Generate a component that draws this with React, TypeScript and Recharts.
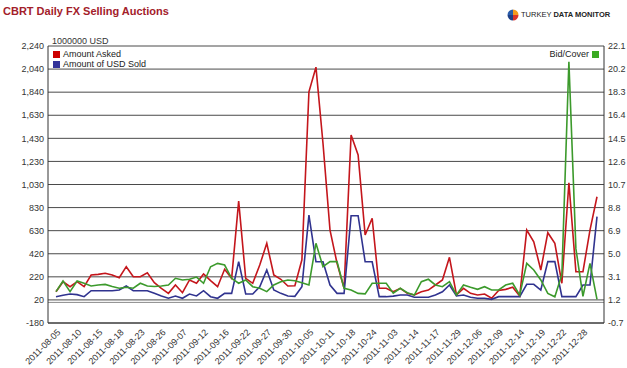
import React from 'react';
import { LineChart, Line, XAxis, YAxis, CartesianGrid, ReferenceLine } from 'recharts';

const dates = [
  '2011-08-05', '2011-08-08', '2011-08-09', '2011-08-10', '2011-08-11', '2011-08-12', '2011-08-15', '2011-08-16',
  '2011-08-17', '2011-08-18', '2011-08-19', '2011-08-22', '2011-08-23', '2011-08-24', '2011-08-25', '2011-08-26',
  '2011-09-05', '2011-09-06', '2011-09-07', '2011-09-08', '2011-09-09', '2011-09-12', '2011-09-13', '2011-09-15',
  '2011-09-16', '2011-09-19', '2011-09-20', '2011-09-22', '2011-09-23', '2011-09-26', '2011-09-27', '2011-09-28',
  '2011-09-29', '2011-09-30', '2011-10-03', '2011-10-04', '2011-10-05', '2011-10-06', '2011-10-07', '2011-10-11',
  '2011-10-13', '2011-10-17', '2011-10-18', '2011-10-19', '2011-10-21', '2011-10-24', '2011-10-26', '2011-10-31',
  '2011-11-03', '2011-11-04', '2011-11-11', '2011-11-14', '2011-11-15', '2011-11-16', '2011-11-17', '2011-11-21',
  '2011-11-23', '2011-11-29', '2011-11-30', '2011-12-02', '2011-12-06', '2011-12-07', '2011-12-08', '2011-12-09',
  '2011-12-12', '2011-12-13', '2011-12-14', '2011-12-15', '2011-12-16', '2011-12-19', '2011-12-20', '2011-12-21',
  '2011-12-22', '2011-12-23', '2011-12-27', '2011-12-28', '2011-12-29', '2011-12-30',
];

const amountAsked = [
  93, 181, 137, 181, 137, 239, 245, 254, 239, 216, 312, 224, 224, 259, 172, 123,
  79, 152, 85, 196, 167, 248, 190, 137, 289, 210, 885, 210, 167, 327, 516, 239,
  202, 143, 145, 372, 1840, 2055, 1390, 632, 342, 123, 1462, 1288, 589, 735, 123, 123,
  93, 123, 79, 65, 93, 108, 152, 196, 394, 65, 123, 79, 65, 73, 36, 105,
  114, 132, 56, 632, 530, 283, 609, 516, 167, 1045, 268, 268, 632, 923,
];

const amountSold = [
  50, 62, 73, 68, 50, 102, 102, 102, 102, 108, 143, 102, 102, 102, 79, 56,
  36, 56, 36, 73, 56, 102, 50, 36, 79, 79, 356, 73, 73, 137, 283, 108,
  79, 56, 53, 137, 763, 355, 355, 152, 79, 79, 757, 757, 355, 355, 50, 50,
  55, 65, 65, 45, 45, 45, 65, 93, 152, 56, 65, 45, 36, 36, 27, 50,
  50, 50, 50, 158, 158, 108, 356, 356, 50, 50, 50, 152, 152, 749,
];

const bidCover = [
  1.88, 2.76, 1.88, 2.76, 2.57, 2.35, 2.43, 2.48, 2.3, 2.16, 2.24, 2.16, 2.57, 2.35, 2.3, 2.35,
  2.43, 2.98, 2.84, 2.9, 3.08, 2.57, 3.93, 4.21, 4.07, 2.98, 2.57, 2.84, 2.29, 2.16, 1.88, 2.43,
  2.7, 2.84, 2.78, 2.62, 2.43, 5.86, 3.93, 4.35, 4.35, 2.16, 2.02, 1.74, 1.7, 2.57, 2.57, 2.57,
  1.75, 2.16, 1.79, 1.6, 2.7, 2.9, 2.43, 2.29, 2.7, 1.6, 2.43, 2.24, 2.07, 2.29, 2.02, 2.02,
  2.43, 2.57, 1.6, 4.21, 3.66, 2.84, 1.74, 1.46, 3.3, 20.8, 5.4, 1.5, 4.21, 1.25,
];

const leftTicks = [-180, 21.67, 223.33, 425, 626.67, 828.33, 1030, 1231.67, 1433.33, 1635, 1836.67, 2038.33, 2240];
const leftTickLabels = ['-180', '20', '220', '420', '630', '830', '1,030', '1,230', '1,430', '1,630', '1,840', '2,040', '2,240'];
const rightTicks = [-0.7, 1.2, 3.1, 5.0, 6.9, 8.8, 10.7, 12.6, 14.5, 16.4, 18.3, 20.2, 22.1];
const rightTickLabels = ['-0.7', '1.2', '3.1', '5.0', '6.9', '8.8', '10.7', '12.6', '14.5', '16.4', '18.3', '20.2', '22.1'];

const seriesNames = ['Amount Asked', 'Amount of USD Sold', 'Bid/Cover'];

const data = dates.map((d, i) => ({
  date: d,
  asked: amountAsked[i],
  sold: amountSold[i],
  bc: bidCover[i],
}));

const FONT = '"Liberation Sans", Arial, Helvetica, sans-serif';
const RED = '#c4161c';
const BLUE = '#30338f';
const GREEN = '#3c9a2c';

const XTick = (props: any) => {
  const { x, y, payload } = props;
  return (
    <g transform={`translate(${x + 5},${y + 8})`}>
      <text textAnchor="end" transform="rotate(-45)" fontSize={9} fill="#333" fontFamily={FONT}>
        {payload.value}
      </text>
    </g>
  );
};

const Logo = () => (
  <svg width={12} height={12} viewBox="-6 -6 12 12" style={{ position: 'absolute', left: 507, top: 9 }}>
    <path d="M0 0 L0 -5.5 A5.5 5.5 0 0 0 -5.5 0 Z" fill="#2a5caa" />
    <path d="M0 0 L-5.5 0 A5.5 5.5 0 0 0 0 5.5 Z" fill="#1d3f86" />
    <path d="M0 0 L0 -5.5 A5.5 5.5 0 0 1 5.5 0 Z" fill="#f39a1e" />
    <path d="M0 0 L5.5 0 A5.5 5.5 0 0 1 0 5.5 Z" fill="#d9332b" />
  </svg>
);

export default function App() {
  return (
    <div style={{ position: 'absolute', left: 0, top: 0, width: 627, height: 368, background: '#fff', fontFamily: FONT }}>
      <div style={{ position: 'absolute', left: 3, top: 5, fontSize: 11, fontWeight: 'bold', color: '#a3202a', lineHeight: '13px', whiteSpace: 'nowrap' }}>
        CBRT Daily FX Selling Auctions
      </div>
      <Logo />
      <div style={{ position: 'absolute', left: 521, top: 10, fontSize: 7.5, color: '#222', lineHeight: '10px', whiteSpace: 'nowrap' }}>
        TURKEY <b>DATA MONITOR</b>
      </div>
      <div style={{ position: 'absolute', left: 52, top: 36, fontSize: 9, color: '#333', lineHeight: '10px', whiteSpace: 'nowrap' }}>
        1000000 USD
      </div>
      <LineChart width={627} height={368} data={data} margin={{ top: 46, right: 0, bottom: 0, left: 0 }}>
        <CartesianGrid yAxisId="left" vertical={false} horizontal={true} stroke="#4a4a4a" strokeWidth={1} />
        <XAxis
          dataKey="date"
          scale="point"
          padding={{ left: 8, right: 7 }}
          interval={2}
          height={45}
          tick={<XTick />}
          tickLine={false}
          tickSize={0}
          axisLine={{ stroke: '#333' }}
        />
        <YAxis
          yAxisId="left"
          orientation="left"
          type="number"
          width={48}
          domain={[-180, 2240]}
          ticks={leftTicks}
          tickFormatter={(v: number, i: number) => leftTickLabels[i] ?? String(v)}
          tick={{ fontSize: 9, fill: '#333', fontFamily: FONT }}
          tickLine={false}
          tickSize={0}
          tickMargin={4}
          axisLine={{ stroke: '#333' }}
          interval={0}
        />
        <YAxis
          yAxisId="right"
          orientation="right"
          type="number"
          width={23}
          domain={[-0.7, 22.1]}
          ticks={rightTicks}
          tickFormatter={(v: number, i: number) => rightTickLabels[i] ?? String(v)}
          tick={{ fontSize: 9, fill: '#333', fontFamily: FONT, textAnchor: 'start' }}
          tickLine={false}
          tickSize={0}
          tickMargin={4}
          axisLine={{ stroke: '#333' }}
          interval={0}
        />
        <ReferenceLine yAxisId="left" y={0} stroke="#8a8a8a" strokeWidth={1} />
        <Line yAxisId="left" type="linear" dataKey="asked" name={seriesNames[0]} stroke={RED} strokeWidth={1.6} dot={false} isAnimationActive={false} />
        <Line yAxisId="left" type="linear" dataKey="sold" name={seriesNames[1]} stroke={BLUE} strokeWidth={1.6} dot={false} isAnimationActive={false} />
        <Line yAxisId="right" type="linear" dataKey="bc" name={seriesNames[2]} stroke={GREEN} strokeWidth={1.6} dot={false} isAnimationActive={false} />
      </LineChart>
      <div style={{ position: 'absolute', left: 53, top: 49, fontSize: 9, color: '#222', lineHeight: '10px', whiteSpace: 'nowrap' }}>
        <div style={{ display: 'flex', alignItems: 'center', height: 10 }}>
          <span style={{ display: 'inline-block', width: 7, height: 7, background: '#c00', marginRight: 3 }} />
          {seriesNames[0]}
        </div>
        <div style={{ display: 'flex', alignItems: 'center', height: 10 }}>
          <span style={{ display: 'inline-block', width: 7, height: 7, background: '#33339a', marginRight: 3 }} />
          {seriesNames[1]}
        </div>
      </div>
      <div style={{ position: 'absolute', right: 627 - 599, top: 49, fontSize: 9, color: '#222', lineHeight: '10px', whiteSpace: 'nowrap' }}>
        <div style={{ display: 'flex', alignItems: 'center', height: 10 }}>
          {seriesNames[2]}
          <span style={{ display: 'inline-block', width: 7, height: 7, background: '#3aaa22', marginLeft: 3 }} />
        </div>
      </div>
    </div>
  );
}
